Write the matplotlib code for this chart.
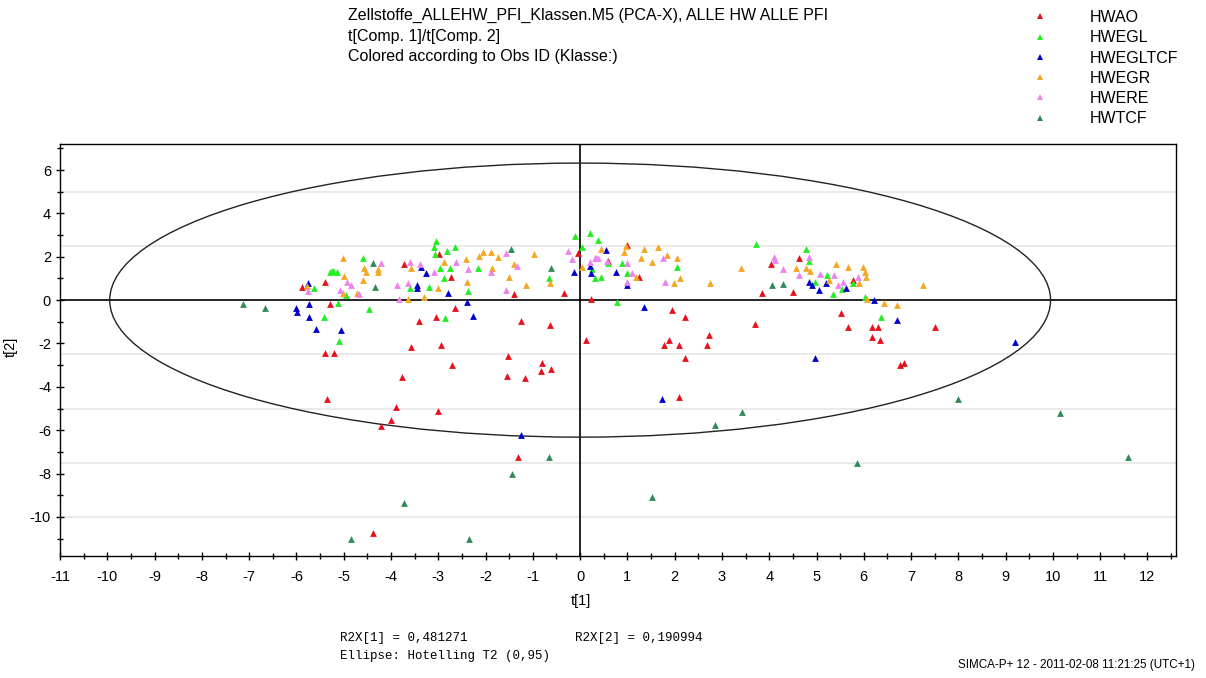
import numpy as np
import matplotlib
matplotlib.use("Agg")
import matplotlib.pyplot as plt
from matplotlib.patches import Ellipse
from matplotlib.ticker import MultipleLocator
from matplotlib.lines import Line2D

plt.rcParams['font.family'] = ['Liberation Sans', 'DejaVu Sans']
plt.rcParams['axes.unicode_minus'] = False

# score values t[1] / t[2] per class
hwao_x = [-5.88, -5.39, -5.28, -5.39, -5.20, -3.73, -2.99, -2.73, -1.40, -0.34, -0.05, 0.24,
          -2.65, -3.41, -3.04, -3.57, -2.94, -2.71, -3.76, -1.26, -0.64, 0.12, -1.52, -1.55,
          -1.17, -0.80, -0.82, -0.61, 0.60, 0.99, 1.24, 1.94, 2.22, 2.73, 2.68, 1.89, 1.78,
          2.10, 2.22, 3.85, 3.70, 4.03, 4.62, 4.51, 5.77, 5.51, 5.66, 6.18, 6.29, 7.50, 6.18,
          6.35, 6.76, 6.84, -5.35, -3.90, -3.01, -3.99, -4.22, -1.31, -4.39, 2.10]
hwao_y = [0.61, 0.85, -0.17, -2.46, -2.42, 1.65, 2.11, 1.08, 0.28, 0.34, 2.18, 0.05,
          -0.35, -0.97, -0.77, -2.18, -2.08, -3.00, -3.54, -0.97, -1.15, -1.85, -2.58, -3.51,
          -3.57, -2.88, -3.26, -3.20, 1.81, 2.54, 1.05, -0.46, -0.77, -1.62, -2.08, -1.85, -2.08,
          -2.08, -2.65, 0.34, -1.11, 1.65, 1.92, 0.38, 0.95, -0.58, -1.26, -1.23, -1.26, -1.23, -1.72,
          -1.85, -2.97, -2.88, -4.58, -4.92, -5.11, -5.51, -5.80, -7.23, -10.72, -4.46]

hwegl_x = [-5.62, -5.41, -5.12, -5.09, -5.30, -5.22, -5.15, -5.25, -4.96, -4.60, -4.47, -3.60,
           -3.20, -2.37, -2.86, -3.04, -3.09, -3.07, -2.81, -2.65, -2.97, -2.76, -2.87, -2.15,
           -0.66, -0.11, 0.21, 0.04, 0.31, 0.37, 0.58, 0.44, 0.26, 0.88, 0.99, 2.04, 0.78,
           3.72, 4.78, 4.84, 4.96, 5.22, 5.54, 5.35, 5.77, 6.02, 6.37]
hwegl_y = [0.54, -0.80, -0.12, -1.89, 1.31, 1.33, 1.31, 1.36, 0.23, 1.92, -0.42, 0.54,
           0.61, 0.43, -0.82, 2.74, 2.46, 2.12, 2.28, 2.46, 1.46, 1.46, 1.03, 1.46,
           1.00, 2.95, 3.10, 2.43, 1.00, 2.77, 1.69, 1.08, 1.45, 1.72, 1.26, 1.54, -0.08,
           2.61, 2.35, 1.80, 0.85, 1.15, 0.49, 0.28, 0.80, 0.15, -0.77]

hwegltcf_x = [-6.02, -5.99, -5.73, -5.76, -5.74, -5.59, -5.06, -3.36, -3.26, -3.44, -3.44, -2.79,
              -2.39, -2.26, -0.13, 0.21, 0.23, 0.54, 0.76, 0.99, 1.36, 4.96, 4.84, 4.91, 5.19,
              5.63, 5.05, 6.21, 6.71, 9.19, -1.26, 1.73]
hwegltcf_y = [-0.35, -0.54, -0.17, 0.80, -0.80, -1.32, -1.37, 1.54, 1.23, 0.72, 0.58, 0.34,
              -0.08, -0.71, 1.31, 1.58, 1.23, 2.31, 1.31, 0.69, -0.31, -2.65, 0.85, 0.72, 0.77,
              0.57, 0.46, 0.00, -0.92, -1.95, -6.23, -4.58]

hwegr_x = [-5.78, -5.01, -4.99, -5.02, -4.72, -4.58, -4.53, -4.28, -4.28, -4.60, -3.57, -3.00,
           -3.65, -3.31, -2.88, -2.42, -2.39, -2.13, -2.05, -1.89, -1.73, -1.86, -1.40, -1.50,
           -1.15, -0.97, -0.64, 0.03, 0.44, 0.93, 0.97, 1.36, 1.65, 1.84, 2.04, 1.29, 1.52,
           1.18, 2.12, 1.99, 2.75, 3.40, 4.56, 4.77, 4.87, 5.26, 5.42, 5.66, 5.90, 5.98, 6.02,
           6.05, 6.07, 6.42, 6.71, 7.25]
hwegr_y = [0.66, 1.95, 1.12, 0.31, 0.34, 1.46, 1.28, 1.43, 1.28, 0.95, 1.46, 0.58,
           0.05, 0.15, 1.74, 1.88, 0.85, 2.03, 2.23, 2.23, 1.97, 1.46, 1.66, 1.08,
           0.69, 2.11, 0.80, 1.51, 2.38, 2.23, 2.49, 2.34, 2.46, 2.08, 1.95, 1.92, 1.77,
           1.05, 1.00, 0.80, 0.80, 1.46, 1.46, 1.46, 1.35, 0.92, 1.65, 1.54, 0.80, 1.54, 1.31,
           1.08, 0.05, -0.12, -0.23, 0.69]

hwere_x = [-5.76, -4.93, -4.84, -5.07, -4.67, -4.22, -3.60, -3.39, -3.09, -3.88, -3.65, -3.83,
           -2.62, -2.37, -1.57, -1.88, -1.34, -1.57, -0.25, -0.18, 0.21, 0.33, 0.31, 0.37,
           0.56, 0.99, 1.10, 0.99, 1.76, 1.80, 4.11, 4.13, 4.84, 4.29, 4.62, 5.08, 5.38,
           5.56, 5.45, 5.88]
hwere_y = [0.42, 0.82, 0.72, 0.46, 0.28, 1.69, 1.75, 1.65, 1.28, 0.69, 0.80, 0.05,
           1.77, 1.42, 2.15, 1.31, 1.58, 0.46, 2.28, 1.88, 1.77, 1.92, 1.95, 1.95,
           1.81, 1.69, 1.26, 0.85, 1.95, 0.85, 2.00, 1.85, 2.00, 1.42, 1.18, 1.20, 1.15,
           0.85, 0.69, 1.08]

hwtcf_x = [-7.14, -6.67, -4.39, -4.33, -1.47, -0.61, 4.06, 4.30, -0.66, -1.45, -3.73, -4.84,
           -2.34, 3.42, 2.85, 8.00, 10.15, 11.59, 5.85, 1.53]
hwtcf_y = [-0.18, -0.35, 1.69, 0.61, 2.34, 1.46, 0.69, 0.74, -7.23, -8.03, -9.38, -11.00,
           -11.04, -5.15, -5.77, -4.58, -5.20, -7.23, -7.49, -9.10]

klassen = ['HWAO', 'HWEGL', 'HWEGLTCF', 'HWEGR', 'HWERE', 'HWTCF']
farben = ['#e8101a', '#22ee22', '#0000cc', '#f5a623', '#ee82ee', '#2e8b57']
daten = [(hwao_x, hwao_y), (hwegl_x, hwegl_y), (hwegltcf_x, hwegltcf_y),
         (hwegr_x, hwegr_y), (hwere_x, hwere_y), (hwtcf_x, hwtcf_y)]

# Hotelling T2 (0,95) ellipse semi axes
t2_x = 9.95
t2_y = 6.32
grid_y = [-10, -7.5, -5, -2.5, 2.5, 5]

fig = plt.figure(figsize=(12.06, 6.78), dpi=100)
ax = fig.add_axes([0.0498, 0.18, 0.9252, 0.6076])

for g in grid_y:
    ax.axhline(g, color='#e6e6e6', lw=1.2, zorder=0)
ax.axhline(0, color='black', lw=1.2, zorder=1)
ax.axvline(0, color='black', lw=1.2, zorder=1)
ax.add_patch(Ellipse((0, 0), 2 * t2_x, 2 * t2_y, fill=False, color='#222222', lw=1.0, zorder=1))

for (xs, ys), farbe in zip(daten, farben):
    ax.scatter(xs, ys, marker='^', s=24, color=farbe, linewidths=0, zorder=3)

ax.set_xlim(-11, 12.6)
ax.set_ylim(-11.8, 7.2)
ax.xaxis.set_major_locator(MultipleLocator(1))
ax.xaxis.set_minor_locator(MultipleLocator(0.5))
ax.yaxis.set_major_locator(MultipleLocator(2))
ax.yaxis.set_minor_locator(MultipleLocator(1))
ax.tick_params(which='major', direction='inout', length=6, width=1, labelsize=10.5)
ax.tick_params(axis='x', which='major', pad=7)
ax.tick_params(which='minor', direction='inout', length=5, width=1)
for s in ax.spines.values():
    s.set_linewidth(1.0)
ax.set_xlabel("t[1]", fontsize=10.5)
ax.xaxis.set_label_coords((581 - 60) / 1116, -(594 - 556) / 412)
ax.set_ylabel("t[2]", fontsize=10.5)
ax.yaxis.set_label_coords(-(60 - 18) / 1116, (556 - 347) / 412)

fig.text(348 / 1206, 1 - 15 / 678, "Zellstoffe_ALLEHW_PFI_Klassen.M5 (PCA-X), ALLE HW ALLE PFI",
         fontsize=11.5, va='center', ha='left')
fig.text(348 / 1206, 1 - 36 / 678, "t[Comp. 1]/t[Comp. 2]", fontsize=11.5, va='center', ha='left')
fig.text(348 / 1206, 1 - 57 / 678, "Colored according to Obs ID (Klasse:)", fontsize=11.5,
         va='center', ha='left')

handles = [Line2D([], [], marker='^', ls='none', color=f, markersize=4.8, markeredgewidth=0)
           for f in farben]
fig.legend(handles, klassen, loc='upper left', bbox_to_anchor=(1024 / 1206, 1 - 10 / 678),
           frameon=False, fontsize=11.5, borderpad=0, borderaxespad=0, handlelength=2.0,
           handletextpad=2.1, labelspacing=0.33)

fig.text(340 / 1206, 1 - 638 / 678, "R2X[1] = 0,481271", family='Liberation Mono',
         fontsize=9, va='center')
fig.text(575 / 1206, 1 - 638 / 678, "R2X[2] = 0,190994", family='Liberation Mono',
         fontsize=9, va='center')
fig.text(340 / 1206, 1 - 656 / 678, "Ellipse: Hotelling T2 (0,95)", family='Liberation Mono',
         fontsize=9, va='center')
fig.text(1195 / 1206, 1 - 665 / 678, "SIMCA-P+ 12 - 2011-02-08 11:21:25 (UTC+1)",
         fontsize=8.4, va='center', ha='right')

fig.savefig("out.png", dpi=100)
